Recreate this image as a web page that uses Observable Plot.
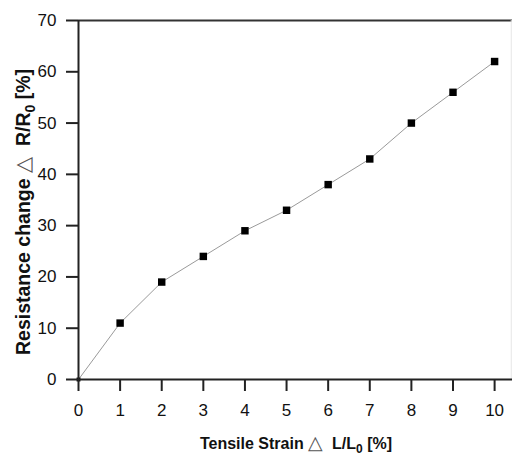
<!DOCTYPE html>
<html>
<head>
<meta charset="utf-8">
<script src="https://cdn.jsdelivr.net/npm/d3@7"></script>
<script src="https://cdn.jsdelivr.net/npm/@observablehq/plot@0.6"></script>
<style>
body { margin: 0; background: #fff; }
g[aria-label="x-axis tick label"] text, g[aria-label="y-axis tick label"] text,
g[aria-label="x-axis tick label"], g[aria-label="y-axis tick label"] { font-size: 17px !important; }
</style>
</head>
<body>
<div id="chart"></div>
<script>
const strain = [0, 1, 2, 3, 4, 5, 6, 7, 8, 9, 10];
const resistance = [0, 11, 19, 24, 29, 33, 38, 43, 50, 56, 62];
const xTicks = [0, 1, 2, 3, 4, 5, 6, 7, 8, 9, 10];
const yTicks = [0, 10, 20, 30, 40, 50, 60, 70];

const data = strain.map((s, i) => ({x: s, y: resistance[i]}));

const W = 512, H = 458;
const FONT = "Liberation Sans, Arial, sans-serif";
const plot = Plot.plot({
  width: W,
  height: H,
  marginLeft: 78,
  marginRight: 0,
  marginTop: 20,
  marginBottom: 79,
  style: {fontFamily: FONT, fontSize: "17px", color: "#111", background: "#fff"},
  x: {domain: [0, 10.43], ticks: xTicks, label: null},
  y: {domain: [0, 70], ticks: yTicks, label: null},
  marks: [
    Plot.ruleY([70], {stroke: "#333", strokeWidth: 2}),
    Plot.ruleX([10.4], {stroke: "#e6e6e6", strokeWidth: 1}),
    Plot.line(data, {x: "x", y: "y", stroke: "#9a9a9a", strokeWidth: 1}),
    Plot.dot(data.filter(d => d.x > 0), {x: "x", y: "y", symbol: "square", fill: "#000", r: 4.2}),
    Plot.dot(data.filter(d => d.x === 0), {x: "x", y: "y", symbol: "square", fill: "#000", r: 2.2}),
    Plot.axisX({ticks: xTicks, tickSize: 12, tickPadding: 12, stroke: "#222", strokeWidth: 2, fontSize: 17, fill: "#111"}),
    Plot.axisY({ticks: yTicks, tickSize: 12, tickPadding: 10, stroke: "#222", strokeWidth: 2, fontSize: 17, fill: "#111"}),
    Plot.ruleX([0], {stroke: "#222", strokeWidth: 2}),
    Plot.ruleY([0], {stroke: "#222", strokeWidth: 2})
  ]
});
document.getElementById("chart").appendChild(plot);

const svg = d3.select(plot);

// X axis title
const xt = svg.append("text")
  .attr("x", 296).attr("y", 449)
  .attr("text-anchor", "middle")
  .attr("font-family", FONT)
  .attr("font-weight", "bold").attr("font-size", 16).attr("fill", "#111");
xt.append("tspan").text("Tensile Strain ");
xt.append("tspan").attr("font-weight", "normal").attr("font-size", 19).attr("fill", "#555").text("\u25B3");
xt.append("tspan").text("  L/L");
xt.append("tspan").attr("font-size", 12).attr("dy", 4).text("0");
xt.append("tspan").attr("dy", -4).text(" [%]");

// Y axis title
const yt = svg.append("text")
  .attr("transform", `translate(30,212) rotate(-90)`)
  .attr("text-anchor", "middle")
  .attr("font-family", FONT)
  .attr("font-weight", "bold").attr("font-size", 19.5).attr("fill", "#111");
yt.append("tspan").text("Resistance change ");
yt.append("tspan").attr("font-weight", "normal").attr("font-size", 21).attr("fill", "#555").text("\u25B3");
yt.append("tspan").text("  R/R");
yt.append("tspan").attr("font-size", 14).attr("dy", 5).text("0");
yt.append("tspan").attr("dy", -5).text(" [%]");
</script>
</body>
</html>
